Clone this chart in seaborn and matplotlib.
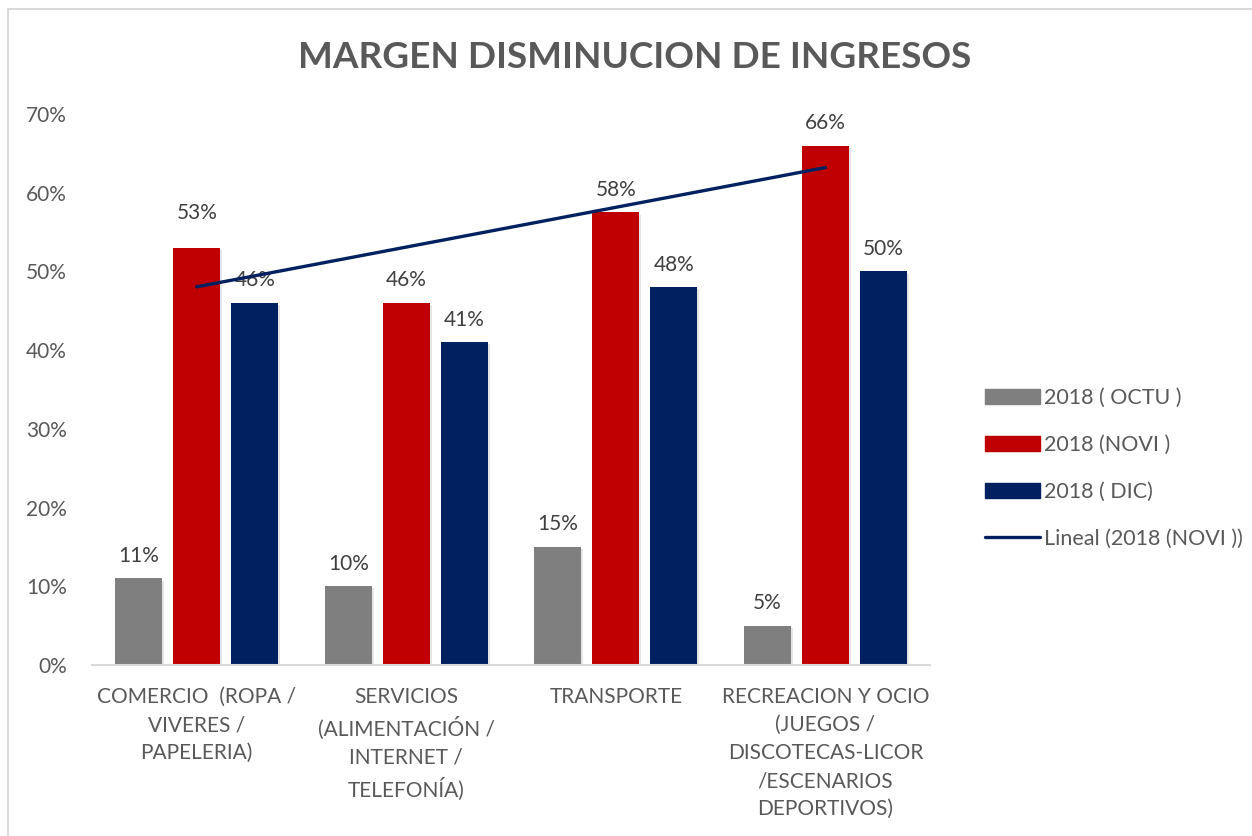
import matplotlib.pyplot as plt
import matplotlib.patheffects as pe
from matplotlib.patches import Rectangle
from matplotlib.lines import Line2D
import numpy as np
import pandas as pd
import seaborn as sns

categories = ['COMERCIO  (ROPA /\nVIVERES /\nPAPELERIA)',
              'SERVICIOS\n(ALIMENTACIÓN /\nINTERNET /\nTELEFONÍA)',
              'TRANSPORTE',
              'RECREACION Y OCIO\n(JUEGOS /\nDISCOTECAS-LICOR\n/ESCENARIOS\nDEPORTIVOS)']
series_names = ['2018 ( OCTU )', '2018 (NOVI )', '2018 ( DIC)']
octu = [11, 10, 15, 5]
novi = [53, 46, 57.5, 66]
dic = [46, 41, 48, 50]
yticks = [0, 10, 20, 30, 40, 50, 60, 70]

colors = ['#7F7F7F', '#C00000', '#002060']
txt = '#595959'

sns.set_theme(style='white')
plt.rcParams['font.family'] = ['Lato', 'DejaVu Sans']

df = pd.DataFrame({
    'cat': categories * 3,
    'serie': [s for s in series_names for _ in categories],
    'val': octu + novi + dic,
})

fig = plt.figure(figsize=(12.52, 8.36), dpi=100)
ax = fig.add_axes([0.0735, 0.2045, 0.6695, 0.6591])

sns.barplot(data=df, x='cat', y='val', hue='serie', palette=colors,
            width=0.83, gap=0.19, ax=ax, legend=False, saturation=1, linewidth=0)

shadow = [pe.SimplePatchShadow(offset=(1.5, -1.5), alpha=0.2, shadow_rgbFace='#808080'), pe.Normal()]
for i, cont in enumerate(ax.containers):
    for b in cont:
        b.set_path_effects(shadow)
        b.set_edgecolor('none')
    lbls = ax.bar_label(cont, labels=['%.0f%%' % v for v in cont.datavalues], padding=9,
                        fontsize=15, color='#404040')
    if i == 1:
        # first NOVI label sits higher in the original (clear of the trendline)
        lbls[0].xyann = (0, 18)

# linear trendline for NOVI
xs = np.arange(len(novi))
m, c = np.polyfit(xs, novi, 1)
ax.plot([xs[0], xs[-1]], [m * xs[0] + c, m * xs[-1] + c], color='#002060', lw=2.4,
        solid_capstyle='round', zorder=5)

ax.set_ylim(0, 70)
ax.set_xlim(-0.5, 3.5)
ax.set_yticks(yticks)
ax.set_yticklabels(['%d%%' % t for t in yticks], fontsize=15, color=txt)
ax.set_xticks(range(len(categories)))
ax.set_xticklabels(categories, fontsize=15, color=txt, linespacing=1.5, va='top')
ax.tick_params(axis='both', length=0)
ax.tick_params(axis='x', pad=16)
ax.tick_params(axis='y', pad=18)
for s in ['top', 'right', 'left']:
    ax.spines[s].set_visible(False)
ax.spines['bottom'].set_color('#D9D9D9')
ax.spines['bottom'].set_linewidth(1.5)
ax.set_xlabel('')
ax.set_ylabel('')

fig.text(0.507, 0.931, 'MARGEN DISMINUCION DE INGRESOS', ha='center', va='center',
         fontsize=26.6, fontweight='bold', color=txt)

handles = [Rectangle((0, 0), 1, 1, color=col) for col in colors]
handles.append(Line2D([0], [0], color='#002060', lw=2.4))
leg = fig.legend(handles, series_names + ['Lineal (2018 (NOVI ))'], loc='center left',
                 bbox_to_anchor=(0.771, 0.44), frameon=False, fontsize=15.5,
                 labelspacing=1.25, handlelength=2.55, handleheight=0.7, handletextpad=0.2,
                 labelcolor=txt)

fig.patches.append(Rectangle((8 / 1252, -0.1), 1.2, 1.1 - 9 / 836, transform=fig.transFigure,
                             fill=False, edgecolor='#D9D9D9', lw=1.5))

fig.savefig('out.png', dpi=100)
